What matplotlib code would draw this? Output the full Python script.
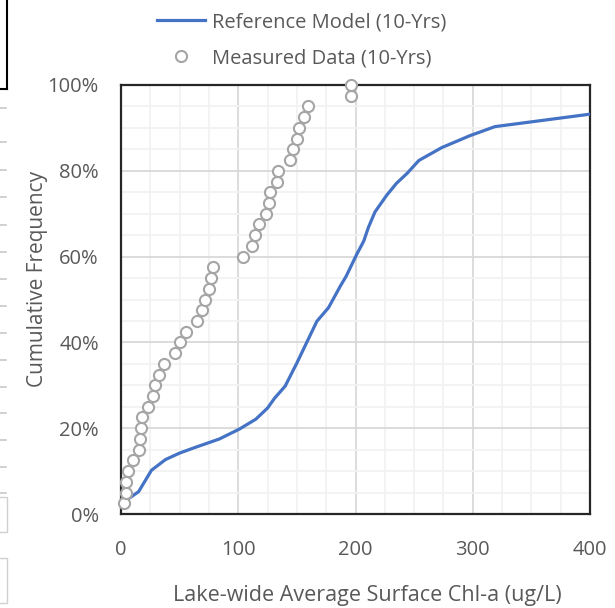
import matplotlib
matplotlib.use("Agg")
import matplotlib.pyplot as plt
from matplotlib.lines import Line2D
from matplotlib.patches import Rectangle
from matplotlib.ticker import MultipleLocator, FuncFormatter

plt.rcParams['font.family'] = ['Open Sans', 'DejaVu Sans']

# Reference model CDF (x: Chl-a ug/L, y: cumulative fraction)
model_x = [6, 15, 26, 38, 50, 62, 84, 101, 115, 125, 131, 140, 150, 167, 177,
           187, 192, 201, 207, 211, 216.6, 226.6, 235, 244, 254, 273.5, 297.7,
           319, 400]
model_y = [0.035, 0.052, 0.102, 0.127, 0.142, 0.154, 0.175, 0.198, 0.221,
           0.247, 0.270, 0.298, 0.352, 0.449, 0.481, 0.531, 0.554, 0.605,
           0.636, 0.668, 0.704, 0.743, 0.771, 0.794, 0.824, 0.854, 0.882,
           0.903, 0.932]

# Measured data (40 points at 2.5% steps)
meas_x = [2.8, 4.0, 4.5, 6.0, 10.5, 15.1, 16.5, 16.8, 18.2, 23.3,
          27.3, 29.0, 32.4, 36.4, 46.1, 50.3, 55.4, 64.6, 68.8, 71.9,
          74.8, 77.0, 78.2, 104.1, 111.7, 114.5, 117.9, 123.7, 126.0, 127.1,
          133.3, 133.6, 144.1, 146.4, 150.1, 151.6, 156.1, 159.2, 195.9, 195.9]
meas_y = [0.025 * (i + 1) for i in range(40)]

x_ticks = [0, 100, 200, 300, 400]
y_ticks = [0, 0.2, 0.4, 0.6, 0.8, 1.0]

W, H = 615, 608
FS = 14.5
fig = plt.figure(figsize=(W / 100, H / 100), dpi=100)
ax = fig.add_axes([121 / W, 1 - 514 / H, (590 - 121) / W, (514 - 85) / H])

txt = '#595959'
ax.set_xlim(0, 400)
ax.set_ylim(0, 1.0)
ax.set_xticks(x_ticks)
ax.set_yticks(y_ticks)
ax.xaxis.set_minor_locator(MultipleLocator(25))
ax.yaxis.set_minor_locator(MultipleLocator(0.05))
ax.yaxis.set_major_formatter(FuncFormatter(lambda v, p: f"{v*100:.0f}%"))
ax.grid(which='major', color='#D9D9D9', linewidth=1.3)
ax.grid(which='minor', color='#F2F2F2', linewidth=1.3)
ax.set_axisbelow(True)
ax.tick_params(which='both', length=0)
ax.tick_params(axis='y', pad=16, labelsize=FS, labelcolor=txt)
ax.tick_params(axis='x', pad=19, labelsize=FS, labelcolor=txt)
for s in ax.spines.values():
    s.set_color('#262626')
    s.set_linewidth(1.6)

ax.plot(model_x, model_y, color='#4472C4', linewidth=2.3,
        label='Reference Model (10-Yrs)', zorder=3)
ax.plot(meas_x, meas_y, linestyle='none', marker='o', markersize=8,
        markerfacecolor='white', markeredgecolor='#A5A5A5', markeredgewidth=1.5,
        label='Measured Data (10-Yrs)', clip_on=False, zorder=4)

ax.set_xlabel('Lake-wide Average Surface Chl-a (ug/L)', fontsize=15.5, color=txt)
ax.xaxis.set_label_coords((367 - 121) / 469, (514 - 585) / 429)
ax.set_ylabel('Cumulative Frequency', fontsize=15, color=txt)
ax.yaxis.set_label_coords((48 - 121) / 469, (514 - 279) / 429)

leg = fig.legend(loc='upper left', bbox_to_anchor=(139 / W, 1 + 6 / H),
                 frameon=False, fontsize=FS, handlelength=2.4,
                 handletextpad=0.3, labelspacing=0.8, labelcolor=txt)

# decorative remnants at left edge of the screenshot
fig.add_artist(Line2D([7 / W, 7 / W], [1, 1 - 89 / H], color='black', lw=1.5,
                      transform=fig.transFigure))
fig.add_artist(Line2D([0, 7 / W], [1 - 89 / H, 1 - 89 / H], color='black',
                      lw=1.5, transform=fig.transFigure))
for yy in [108, 142, 170, 197, 225, 252, 279, 306, 333, 360, 387, 413, 440,
           467, 493]:
    fig.add_artist(Line2D([0, 6 / W], [1 - yy / H, 1 - yy / H], color='#C8C8C8',
                          lw=1.2, transform=fig.transFigure))
for (y0, y1) in [(497, 532), (558, 603)]:
    fig.add_artist(Rectangle((-2 / W, 1 - y1 / H), 9 / W, (y1 - y0) / H,
                             fill=False, edgecolor='#D0D0D0', lw=1.0,
                             transform=fig.transFigure))

fig.savefig('out.png', dpi=100)
